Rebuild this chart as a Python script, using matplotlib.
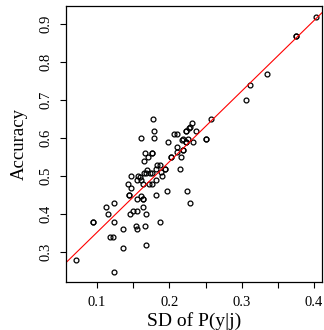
import numpy as np
import matplotlib
matplotlib.use("Agg")
import matplotlib.pyplot as plt

plt.rcParams['font.family'] = ['Liberation Serif', 'DejaVu Serif']

# values (SD of P(y|j), accuracy)
sd = [0.071, 0.094, 0.094, 0.112, 0.115, 0.123, 0.123, 0.118, 0.122, 0.136,
      0.123, 0.136, 0.153, 0.155, 0.166, 0.168, 0.187, 0.146, 0.149, 0.155,
      0.164, 0.168, 0.144, 0.144, 0.155, 0.160, 0.164, 0.164, 0.182, 0.196,
      0.224, 0.229,
      0.143, 0.147, 0.147, 0.155, 0.156, 0.160, 0.163, 0.165, 0.169, 0.172,
      0.176, 0.173, 0.176, 0.182, 0.182, 0.183, 0.187, 0.188, 0.189, 0.194,
      0.194, 0.165, 0.166, 0.170, 0.176, 0.176, 0.202, 0.202, 0.210, 0.215,
      0.216, 0.219, 0.219, 0.159, 0.167,
      0.177, 0.179, 0.160, 0.178, 0.198, 0.206, 0.210, 0.210, 0.217, 0.218,
      0.223, 0.223, 0.233, 0.225, 0.223, 0.223, 0.236, 0.229, 0.231, 0.227,
      0.250, 0.250, 0.258, 0.306, 0.312, 0.335, 0.375, 0.375, 0.403]
acc = [0.279, 0.379, 0.379, 0.418, 0.399, 0.428, 0.379, 0.339, 0.339, 0.310,
       0.248, 0.360, 0.368, 0.360, 0.368, 0.318, 0.379, 0.399, 0.408, 0.408,
       0.418, 0.399, 0.450, 0.450, 0.439, 0.448, 0.439, 0.439, 0.450, 0.459,
       0.459, 0.428,
       0.479, 0.468, 0.500, 0.489, 0.500, 0.489, 0.479, 0.507, 0.516, 0.479,
       0.479, 0.507, 0.507, 0.489, 0.518, 0.529, 0.529, 0.509, 0.500, 0.518,
       0.518, 0.538, 0.560, 0.549, 0.560, 0.560, 0.549, 0.549, 0.564, 0.518,
       0.549, 0.568, 0.568, 0.498, 0.508,
       0.650, 0.619, 0.599, 0.599, 0.589, 0.610, 0.610, 0.577, 0.595, 0.598,
       0.588, 0.588, 0.588, 0.598, 0.619, 0.619, 0.619, 0.629, 0.639, 0.625,
       0.598, 0.598, 0.650, 0.700, 0.739, 0.768, 0.869, 0.869, 0.919]

x_ticks = [0.1, 0.15, 0.2, 0.25, 0.3, 0.35, 0.4]
x_labels = ['0.1', '', '0.2', '', '0.3', '', '0.4']
y_ticks = [0.3, 0.4, 0.5, 0.6, 0.7, 0.8, 0.9]

sd = np.array(sd)
acc = np.array(acc)

fig = plt.figure(figsize=(3.24, 3.30), dpi=100)
ax = fig.add_axes([0.204, 0.1455, 0.79, 0.8365])

ax.plot(sd, acc, 'o', mfc='none', mec='black', ms=3.5, mew=0.9)

# least squares line
slope, icept = np.polyfit(sd, acc, 1)
xl = np.array([0.0, 0.5])
ax.plot(xl, icept + slope * xl, color='red', lw=0.8)

ax.set_xlim(0.057, 0.411)
ax.set_ylim(0.221, 0.947)
ax.set_xticks(x_ticks)
ax.set_xticklabels(x_labels)
ax.set_yticks(y_ticks)
ax.set_yticklabels([str(v) for v in y_ticks], rotation=90, va='center')
ax.tick_params(direction='out', length=4, width=0.8, labelsize=10.5, pad=6)
for s in ax.spines.values():
    s.set_linewidth(0.9)

ax.set_xlabel('SD of P(y|j)', fontsize=14, labelpad=2)
ax.set_ylabel('Accuracy', fontsize=13.5, labelpad=8)

fig.savefig('out.png', dpi=100)
